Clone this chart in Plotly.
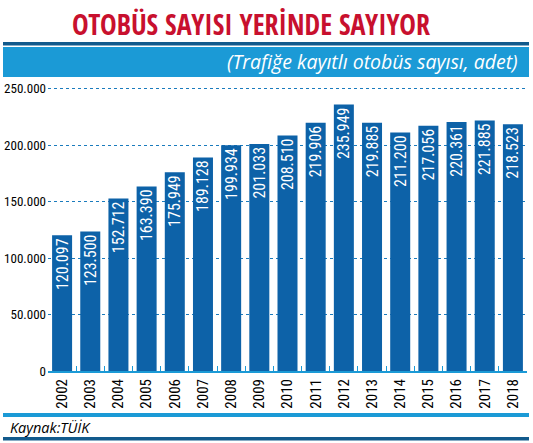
import plotly.graph_objects as go

years = ["2002", "2003", "2004", "2005", "2006", "2007", "2008", "2009", "2010",
         "2011", "2012", "2013", "2014", "2015", "2016", "2017", "2018"]
buses = [120097, 123500, 152712, 163390, 175949, 189128, 199934, 201033, 208510,
         219906, 235949, 219885, 211200, 217056, 220361, 221885, 218523]
y_ticks = [0, 50000, 100000, 150000, 200000, 250000]

TITLE = "OTOBÜS SAYISI YERİNDE SAYIYOR"
SUBTITLE = "(Trafiğe kayıtlı otobüs sayısı, adet)"
SOURCE = "Kaynak:TÜİK"

NARROW = "Roboto Condensed, Open Sans Condensed, DejaVu Sans Condensed, sans-serif"
TITLE_FONT = "Open Sans Condensed, Roboto Condensed, sans-serif"
BAR_BLUE = "#0d62a8"
LIGHT_BLUE = "#1b9ad6"
DARK_BLUE = "#125a8c"

# plot area in pixels
L, R, T, B = 48, 6, 83, 72
W, H = 533, 443
PW, PH = W - L - R, H - T - B

fig = go.Figure(
    go.Bar(
        x=years,
        y=buses,
        marker=dict(color=BAR_BLUE, line=dict(width=0)),
        texttemplate="%{y:,}",
        textposition="inside",
        insidetextanchor="end",
        textangle=-90,
        insidetextfont=dict(family=NARROW, size=16, color="white"),
    )
)

fig.update_xaxes(
    type="category",
    tickangle=-90,
    tickfont=dict(family=NARROW, size=15, color="black"),
    showline=True, linecolor=LIGHT_BLUE, linewidth=2,
    ticks="inside", tickson="boundaries", ticklen=5, tickcolor=LIGHT_BLUE,
    showgrid=False, automargin=False,
)
fig.update_yaxes(
    range=[0, 255000],
    tickvals=y_ticks,
    tickformat=",",
    tickfont=dict(family=NARROW, size=13, color="black"),
    showgrid=True, gridcolor="#1a7bbd", griddash="dot", gridwidth=1,
    zeroline=False, ticks="", ticklabelstandoff=1, automargin=False,
)

fig.update_layout(
    width=W, height=H,
    margin=dict(l=L, r=R, t=T, b=B),
    paper_bgcolor="white", plot_bgcolor="white",
    separators=",.",
    bargap=0.29,
    showlegend=False,
    uniformtext=dict(minsize=16, mode="show"),
)


def px(x):
    return (x - L) / PW


def py(y):
    return (PH - (y - T)) / PH


def band(y0, y1, color):
    fig.add_shape(type="rect", xref="paper", yref="paper",
                  x0=px(3), x1=px(529), y0=py(y1), y1=py(y0),
                  fillcolor=color, line_width=0, layer="below")


band(42, 45.5, DARK_BLUE)
band(47, 77, LIGHT_BLUE)
band(413, 417, LIGHT_BLUE)
band(437, 440.5, DARK_BLUE)

fig.add_annotation(text=TITLE, xref="paper", yref="paper", x=px(251), y=py(24),
                   xanchor="center", yanchor="middle", showarrow=False,
                   font=dict(family=TITLE_FONT, size=28, color="#c8102e", weight="bold"))
fig.add_annotation(text="<i>" + SUBTITLE + "</i>", xref="paper", yref="paper",
                   x=px(520), y=py(62), xanchor="right", yanchor="middle",
                   showarrow=False, font=dict(family="Open Sans", size=19.5, color="white"))
fig.add_annotation(text="<i>" + SOURCE + "</i>", xref="paper", yref="paper",
                   x=px(8), y=py(427.5), xanchor="left", yanchor="middle",
                   showarrow=False, font=dict(family="Open Sans", size=14.5, color="black"))

# the page is photographed from its top-left corner, so drop the default body margin
fig.write_html("out.html", config={"displayModeBar": False},
               post_script="document.body.style.margin='0';")
